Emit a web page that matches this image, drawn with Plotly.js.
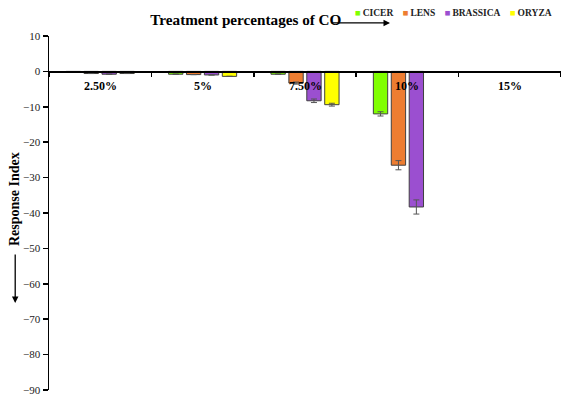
<!DOCTYPE html>
<html>
<head>
<meta charset="utf-8">
<script src="https://cdn.plot.ly/plotly-3.0.1.min.js"></script>
<style>html,body{margin:0;padding:0;background:#fff;}#chart{width:561px;height:396px;}</style>
</head>
<body>
<div id="chart"></div>
<script>
const categories = ["2.50%", "5%", "7.50%", "10%", "15%"];
const seriesNames = ["CICER", "LENS", "BRASSICA", "ORYZA"];
const cicer    = [-0.3, -0.8, -0.8, -12.0, null];
const lens     = [-0.6, -0.9, -3.3, -26.5, null];
const brassica = [-0.8, -1.0, -8.3, -38.3, null];
const oryza    = [-0.6, -1.4, -9.4, null, null];
const cicerErr    = [0, 0, 0, 0.6, 0];
const lensErr     = [0, 0, 0.3, 1.3, 0];
const brassicaErr = [0, 0, 0.5, 2.0, 0];
const oryzaErr    = [0, 0, 0.4, 0, 0];
const colors = ["#80ff00", "#ed7d31", "#9b4fd0", "#ffff00"];

const FONT = "'Liberation Serif', 'Times New Roman', Times, serif";
const values = [cicer, lens, brassica, oryza];
const errs = [cicerErr, lensErr, brassicaErr, oryzaErr];

const traces = values.map((v, i) => ({
  type: "bar",
  name: seriesNames[i],
  x: categories,
  y: v,
  marker: {color: colors[i], line: {color: "#404040", width: 1}},
  error_y: {type: "data", array: errs[i], visible: true, color: "#555", thickness: 1, width: 3},
  showlegend: false
}));

const legendText = seriesNames.map((n, i) =>
  `<span style="color:${colors[i]}">■</span>&#8201;${n}`).join("&nbsp;&nbsp;&nbsp;&nbsp;");

const annotations = categories.map(c => ({
  x: c, y: 0, xref: "x", yref: "y", yshift: -15,
  text: "<b>" + c + "</b>", showarrow: false,
  font: {family: FONT, size: 12, color: "#000"}
}));
annotations.push(
  {xref: "paper", yref: "paper", x: -0.066, y: 0.54, xanchor: "center", yanchor: "middle",
   text: "<b>Response Index</b>",
   textangle: -90, showarrow: false, font: {family: FONT, size: 14, color: "#000"}},
  {xref: "paper", yref: "paper", x: -0.066, y: 0.246, ax: 0, ay: -50, text: "",
   showarrow: true, arrowhead: 2, arrowsize: 1, arrowwidth: 1.3, arrowcolor: "#000"},
  {xref: "paper", yref: "paper", x: 0.666, y: 1.037, ax: -60, ay: 0, text: "",
   showarrow: true, arrowhead: 2, arrowsize: 1, arrowwidth: 1.3, arrowcolor: "#000"},
  {xref: "paper", yref: "paper", x: 0.986, y: 1.064, xanchor: "right", yanchor: "middle",
   text: "<b>" + legendText + "</b>", showarrow: false,
   font: {family: FONT, size: 9.5, color: "#222"}}
);

const layout = {
  width: 561, height: 396,
  margin: {l: 49, r: 0, t: 36, b: 6, pad: 0},
  paper_bgcolor: "#fff", plot_bgcolor: "#fff",
  font: {family: FONT},
  title: {text: "<b>Treatment percentages of CO</b>", x: 0.268, xanchor: "left",
          xref: "container", y: 0.951, yanchor: "middle", yref: "container",
          font: {family: FONT, size: 15.2, color: "#000"}},
  barmode: "group", bargap: 0.3, bargroupgap: 0.2,
  xaxis: {type: "category", categoryorder: "array", categoryarray: categories,
          range: [-0.5, 4.5], anchor: "free", position: 0.9,
          showline: true, linecolor: "#000", linewidth: 1.5,
          ticks: "outside", ticklen: 4, tickwidth: 1.5, tickcolor: "#000",
          tickson: "boundaries", showticklabels: false, showgrid: false, zeroline: false},
  xaxis2: {type: "category", categoryorder: "array", categoryarray: categories,
           matches: "x", overlaying: "x", anchor: "free", position: 0.9,
           showline: false, ticks: "inside", ticklen: 4, tickwidth: 1.5, tickcolor: "#000",
           tickson: "boundaries", showticklabels: false, showgrid: false, zeroline: false},
  yaxis: {range: [-90, 10], dtick: 10, showline: true, linecolor: "#000", linewidth: 1.5,
          ticks: "outside", ticklen: 5, tickwidth: 1.5, tickcolor: "#000",
          showgrid: false, zeroline: false,
          tickfont: {family: FONT, size: 11, color: "#222"}},
  annotations: annotations
};

Plotly.newPlot("chart", traces, layout, {displayModeBar: false, staticPlot: true});
</script>
</body>
</html>
